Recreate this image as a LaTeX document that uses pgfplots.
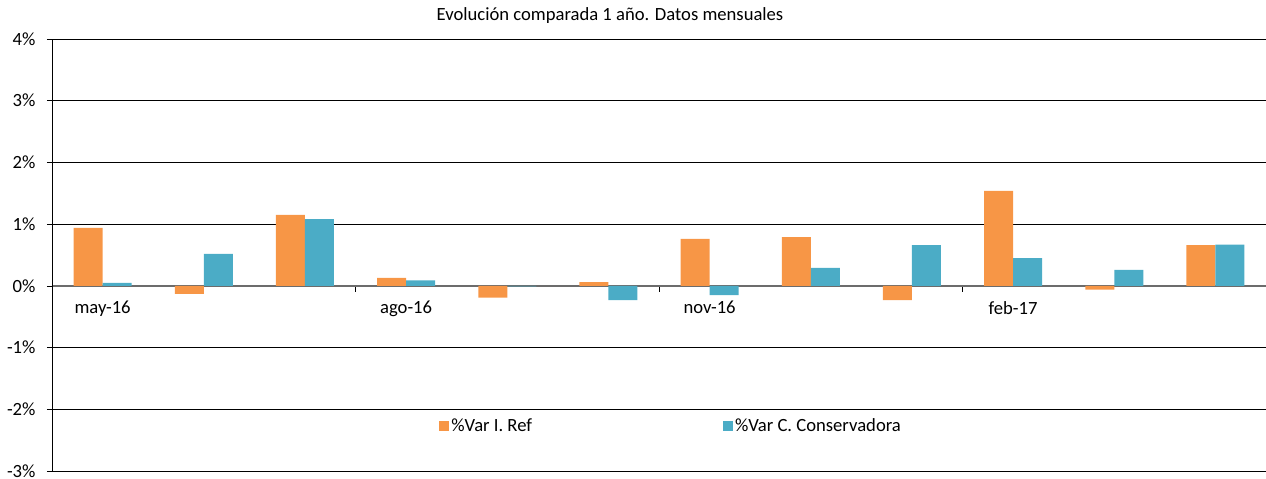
\documentclass[border=0pt]{standalone}
\usepackage{fontspec}
\setmainfont{Carlito}
\usepackage{pgfplots}
\pgfplotsset{compat=1.18}
\definecolor{cOr}{HTML}{F79646}
\definecolor{cBl}{HTML}{4BACC6}
\begin{document}
\begin{tikzpicture}[font=\fontsize{18.7}{22}\selectfont]
\path[use as bounding box] (0,0) rectangle (1266bp,479bp);
\begin{axis}[
  scale only axis, width=1214bp, height=432bp,
  at={(52bp,8bp)}, anchor=south west,
  xmin=-0.5, xmax=11.5, ymin=-3, ymax=4,
  axis x line*=middle, axis y line*=left,
  x axis line style={draw=gray!85!black, line width=1.3pt},
  y axis line style={draw=black, line width=0.8pt},
  ybar=0pt, bar width=29bp,
  xtick={0,3,6,9}, xticklabels={may-16,ago-16,nov-16,feb-17},
  major x tick style={draw=none},
  minor xtick={2.5,5.5,8.5},
  minor x tick style={draw=black, line width=0.6pt},
  minor tick length=6bp,
  xtick align=outside,
  xticklabel style={yshift=-7bp},
  ytick={-3,-2,-1,0,1,2,3,4},
  yticklabels={-3\%,-2\%,-1\%,0\%,1\%,2\%,3\%,4\%},
  ymajorgrids, grid style={black, line width=0.8pt},
  major y tick style={draw=black, line width=0.6pt},
  ytick align=outside, major tick length=5bp,
  yticklabel style={xshift=-8bp},
  legend style={at={(0.51,0.104)}, anchor=center, draw=none, fill=none, font=\fontsize{18.7}{22}\selectfont},
  legend columns=2,
  legend image code/.code={\fill[#1] (0bp,-5bp) rectangle (10bp,5bp);},
  /tikz/every even column/.append style={column sep=189bp},
]
\addplot[fill=cOr, draw=none] coordinates {
 (0,0.94) (1,-0.13) (2,1.15) (3,0.13) (4,-0.19) (5,0.06)
 (6,0.76) (7,0.79) (8,-0.23) (9,1.54) (10,-0.06) (11,0.66)};
\addlegendentry{\%Var I. Ref}
\addplot[fill=cBl, draw=none] coordinates {
 (0,0.05) (1,0.52) (2,1.08) (3,0.09) (4,-0.01) (5,-0.23)
 (6,-0.15) (7,0.29) (8,0.66) (9,0.45) (10,0.26) (11,0.67)};
\addlegendentry{\%Var C. Conservadora}
\end{axis}
\node at (610bp,463bp) {Evolución comparada 1 año. Datos mensuales};
\end{tikzpicture}
\end{document}
